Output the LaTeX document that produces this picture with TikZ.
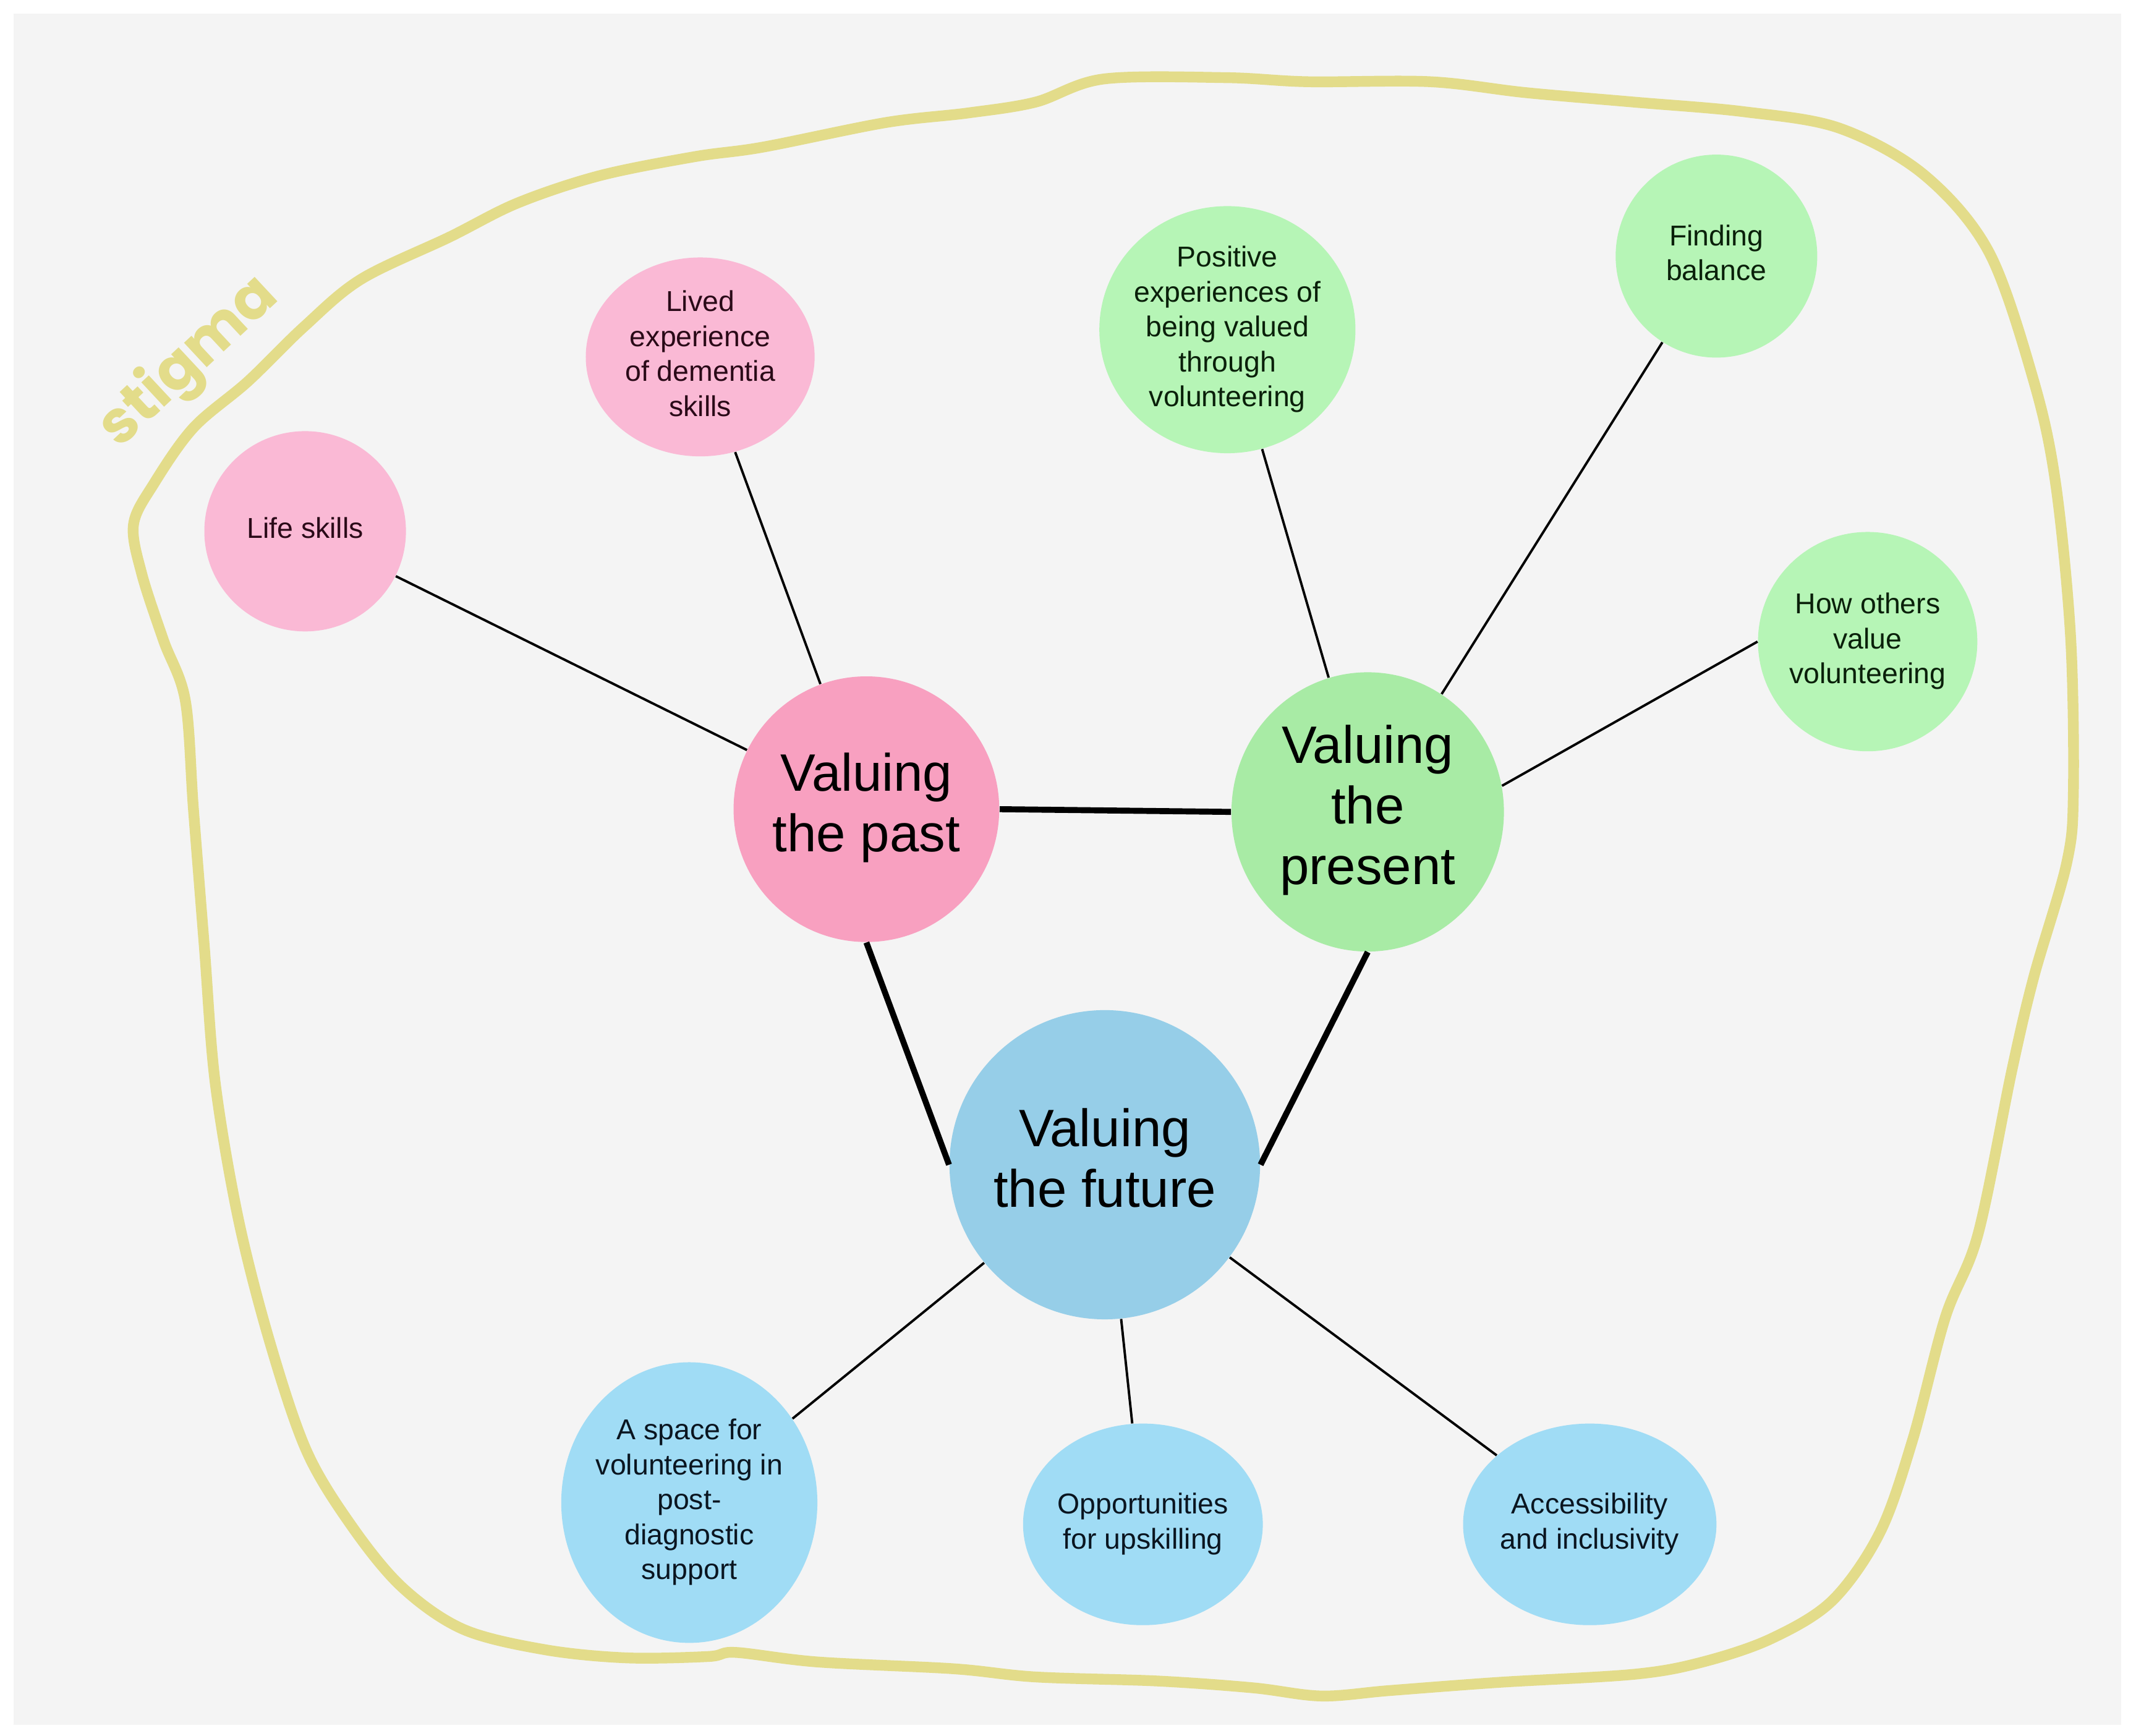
\documentclass[tikz,border=0pt]{standalone}
\usepackage{fontspec}
\setmainfont{Liberation Sans}
\newfontfamily\stigmafont{Poppins}
\usetikzlibrary{shapes.geometric}
\definecolor{bgc}{HTML}{F4F4F4}
\definecolor{outl}{HTML}{E3DC8A}
\definecolor{pinkA}{HTML}{FAB9D5}
\definecolor{pinkB}{HTML}{F8A0C0}
\definecolor{greenA}{HTML}{B6F5B6}
\definecolor{greenB}{HTML}{A8EBA5}
\definecolor{blueA}{HTML}{A0DCF5}
\definecolor{blueB}{HTML}{96CEE8}
\definecolor{txtP}{HTML}{2A0A18}
\definecolor{txtG}{HTML}{0A200A}
\definecolor{txtB}{HTML}{0A1520}
\newcommand\tbox[1]{\makebox[0pt]{\begin{tabular}{@{}c@{}}#1\end{tabular}}}
\begin{document}
\begin{tikzpicture}[x=0.02cm,y=-0.02cm,
  bub/.style={ellipse, inner sep=0pt, draw=none},
  small/.style={font=\fontsize{12}{14.6}\selectfont},
  big/.style={font=\fontsize{22}{25.3}\selectfont},
  thin/.style={line width=1pt, black},
  thick/.style={line width=2.5pt, black}]
\useasboundingbox (0,0) rectangle (1568,1274.3);
\fill[white] (0,0) rectangle (1568,1274.3);
\fill[bgc] (10,10) rectangle (1557,1266);
% stigma outline
\draw[outl, line width=4.5pt, line join=round]
  plot[smooth cycle, tension=0.55] coordinates {
  (98,385) (113,355) (142,314) (182,280) (223,240) (265,205) (330,174)
  (380,149) (440,129) (510,115) (560,108) (650,90) (710,83) (760,75)
  (810,58) (900,57) (960,60) (1050,60) (1120,68) (1200,75) (1280,82)
  (1350,94) (1412,128) (1460,185) (1493,280) (1509,355) (1520,468)
  (1522,582) (1517,634) (1493,717) (1477,785) (1452,906) (1428,967)
  (1404,1057) (1380,1125) (1345,1175) (1300,1203) (1250,1220) (1200,1229)
  (1100,1235) (1020,1241) (970,1245) (920,1239) (850,1234) (760,1231)
  (700,1225) (600,1220) (540,1213) (520,1216) (460,1217) (400,1211)
  (340,1196) (295,1165) (258,1120) (225,1065) (198,985) (175,895)
  (158,795) (150,695) (142,594) (136,514) (120,470) (104,421)};
\node[text=outl, rotate=43, font=\stigmafont\bfseries\fontsize{25}{27}\selectfont] (stigma) at (139,266) {stigma};
% nodes
\node[bub, fill=pinkA, text=txtP, small, minimum width=148*0.02cm, minimum height=147*0.02cm] (life) at (224,390) {\tbox{Life skills}};
\node[bub, fill=pinkA, text=txtP, small, minimum width=168*0.02cm, minimum height=146*0.02cm] (lived) at (514,262) {\tbox{Lived\\experience\\of dementia\\skills}};
\node[bub, fill=pinkB, text=black, big, minimum width=195*0.02cm, minimum height=195*0.02cm] (past) at (636,594) {\tbox{Valuing\\the past}};
\node[bub, fill=greenA, text=txtG, small, minimum width=188*0.02cm, minimum height=176*0.02cm] (pos) at (901,242) {\tbox{Positive\\experiences of\\being valued\\through\\volunteering}};
\node[bub, fill=greenA, text=txtG, small, minimum width=148*0.02cm, minimum height=149*0.02cm] (find) at (1260,188) {\tbox{Finding\\balance}};
\node[bub, fill=greenA, text=txtG, small, minimum width=161*0.02cm, minimum height=161*0.02cm] (how) at (1371,471) {\tbox{How others\\value\\volunteering}};
\node[bub, fill=greenB, text=black, big, minimum width=200*0.02cm, minimum height=205*0.02cm] (pres) at (1004,596) {\tbox{Valuing\\the\\present}};
\node[bub, fill=blueB, text=black, big, minimum width=228*0.02cm, minimum height=227*0.02cm] (fut) at (811,855) {\tbox{Valuing\\the future}};
\node[bub, fill=blueA, text=txtB, small, minimum width=188*0.02cm, minimum height=206*0.02cm] (space) at (506,1103) {\tbox{A space for\\volunteering in\\post-\\diagnostic\\support}};
\node[bub, fill=blueA, text=txtB, small, minimum width=176*0.02cm, minimum height=148*0.02cm] (opp) at (839,1119) {\tbox{Opportunities\\for upskilling}};
\node[bub, fill=blueA, text=txtB, small, minimum width=186*0.02cm, minimum height=148*0.02cm] (acc) at (1167,1119) {\tbox{Accessibility\\and inclusivity}};
% connectors
\draw[thin] (life) -- (past);
\draw[thin] (lived) -- (past);
\draw[thin] (pos) -- (pres);
\draw[thin] (find) -- (pres);
\draw[thin] (how.west) -- (pres.11);
\draw[thin] (fut) -- (space);
\draw[thin] (fut) -- (opp);
\draw[thin] (fut) -- (acc);
\draw[thick] (past.east) -- (pres.west);
\draw[thick] (past.south) -- (fut.west);
\draw[thick] (pres.south) -- (fut.east);
\end{tikzpicture}
\end{document}
